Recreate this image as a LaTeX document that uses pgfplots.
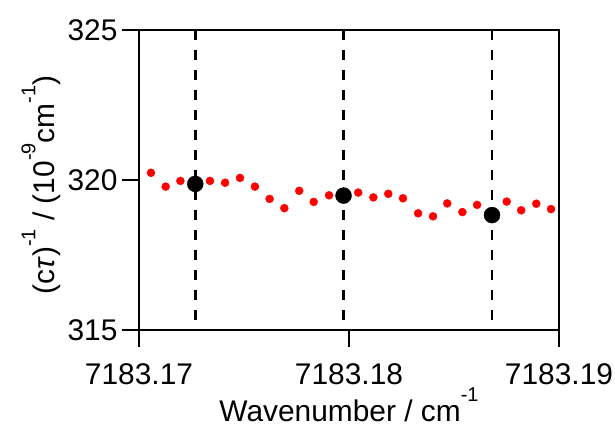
\documentclass[border=0pt]{standalone}
\usepackage{fontspec}
\setmainfont{Liberation Sans}
\usepackage{pgfplots}
\pgfplotsset{compat=1.18}
\newcommand\sups[1]{\raisebox{0.66em}{\fontsize{20}{22}\selectfont #1}}
\begin{document}
\begin{tikzpicture}
\begin{axis}[
  scale only axis, width=420bp, height=300bp,
  xmin=0, xmax=20, ymin=315, ymax=325,
  xtick={0,10,20}, xticklabels={7183.17,7183.18,7183.19},
  ytick={315,320,325},
  tick align=outside, tick pos=left,
  major tick length=17bp,
  axis line style={line width=2bp},
  every tick/.style={black, line width=2bp},
  /pgf/number format/assume math mode=true,
  tick label style={font=\fontsize{30}{35}\selectfont},
  yticklabel style={xshift=-1bp},
  xticklabel style={yshift=-13bp},
  label style={font=\fontsize{30}{35}\selectfont},
  xlabel={Wavenumber / cm\sups{-1}},
  ylabel={(c\textit{τ})\sups{-1} / (10\sups{-9}cm\sups{-1})},
  xlabel style={at={(axis description cs:0.5,0)}, anchor=base, yshift=-91bp},
  ylabel style={at={(axis description cs:0,0.5)}, anchor=base, yshift=84bp, xshift=-5bp},
  clip=false,
]
\addplot[black, line width=2.5bp, dash pattern=on 10bp off 10bp] coordinates {(2.68,325) (2.68,315)};
\addplot[black, line width=2.5bp, dash pattern=on 10bp off 10bp] coordinates {(9.74,325) (9.74,315)};
\addplot[black, line width=2.5bp, dash pattern=on 10bp off 10bp] coordinates {(16.81,325) (16.81,315)};
\addplot[only marks, mark=*, mark size=4bp, red, mark options={draw=red, fill=red}] coordinates {
(0.57,320.24) (1.27,319.78) (1.97,319.97) (2.68,319.87) (3.38,319.97)
(4.10,319.91) (4.81,320.07) (5.52,319.78) (6.22,319.37) (6.92,319.06)
(7.63,319.64) (8.32,319.27) (9.05,319.49) (9.74,319.48) (10.44,319.58)
(11.16,319.42) (11.87,319.54) (12.57,319.39) (13.29,318.89) (14.00,318.79)
(14.68,319.22) (15.40,318.93) (16.10,319.17) (16.81,318.83) (17.51,319.28)
(18.20,318.99) (18.92,319.21) (19.62,319.03)
};
\addplot[only marks, mark=*, mark size=8bp, black] coordinates {
(2.68,319.87) (9.74,319.48) (16.81,318.83)
};
\end{axis}
\pgfresetboundingbox
\path (-139bp,-100bp) rectangle (476bp,330bp);
\end{tikzpicture}
\end{document}
